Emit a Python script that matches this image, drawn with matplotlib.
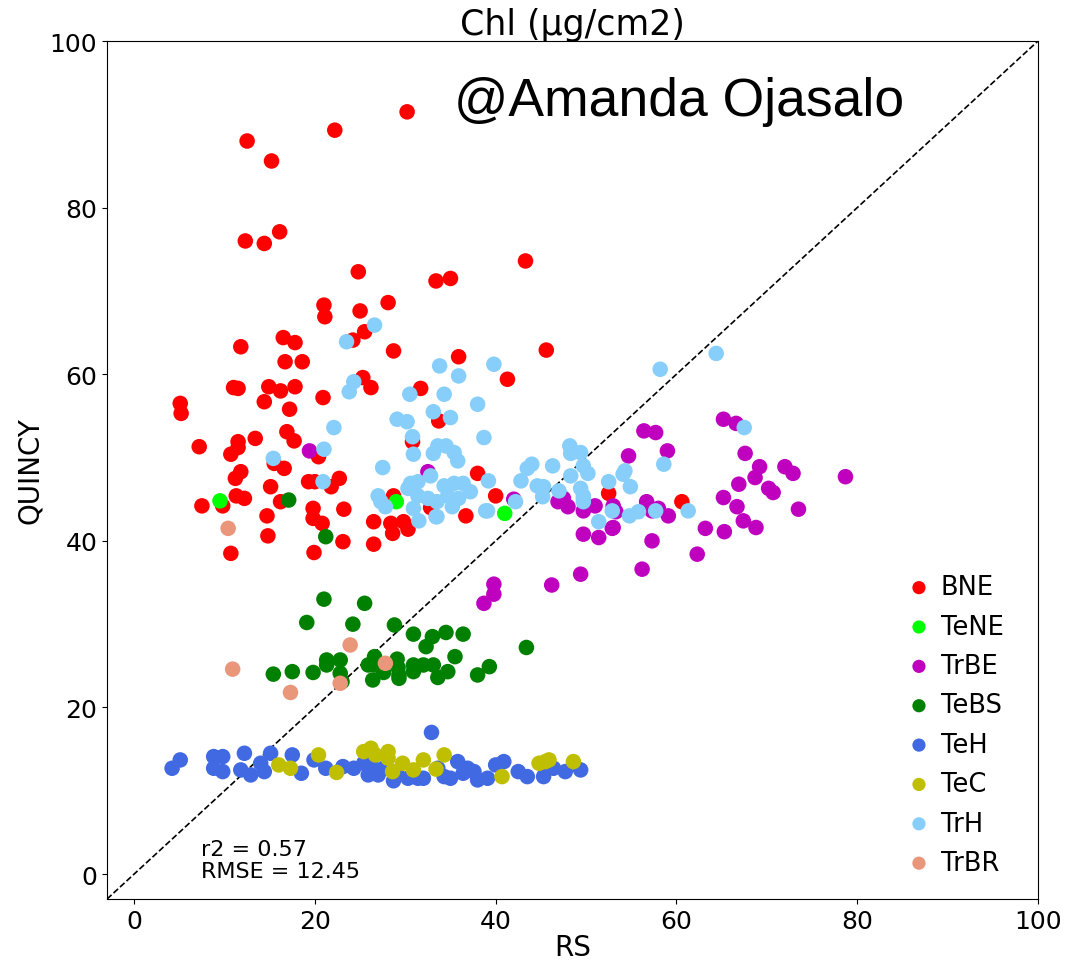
import matplotlib
matplotlib.use("Agg")
import matplotlib.pyplot as plt

# ---- data (RS, QUINCY) per plant functional type ----
bne_x = [30.2, 22.2, 12.5, 15.2, 16.1, 12.3, 14.4, 43.3, 24.8, 33.4, 35.0, 28.1, 21.0, 21.1, 25.0,
         25.5, 24.2, 11.8, 16.5, 17.8, 28.7, 35.9, 45.6, 16.7, 18.6, 25.3, 26.2, 41.3, 5.1, 5.2,
         11.0, 11.5, 14.9, 16.2, 17.8, 14.4, 17.2, 20.9, 31.7, 33.7, 30.8, 7.2, 11.5, 11.5, 10.7,
         13.4, 16.9, 17.7, 20.4, 16.6, 15.5, 11.8, 11.2, 15.1, 19.3, 20.0, 22.7, 21.8, 11.3, 12.2,
         7.5, 9.8, 16.2, 19.8, 14.7, 19.8, 20.8, 23.2, 26.5, 14.8, 23.1, 10.7, 19.9, 26.5, 28.6,
         30.3, 29.8, 28.4, 36.7, 38.0, 40.0, 28.7, 52.5, 32.8, 60.6]
bne_y = [91.5, 89.3, 88.0, 85.6, 77.1, 76.0, 75.7, 73.6, 72.3, 71.2, 71.5, 68.6, 68.3, 66.9, 67.6,
         65.1, 64.1, 63.3, 64.4, 63.8, 62.8, 62.1, 62.9, 61.5, 61.5, 59.6, 58.4, 59.4, 56.5, 55.3,
         58.4, 58.3, 58.5, 58.0, 58.5, 56.7, 55.8, 57.2, 58.3, 54.4, 51.9, 51.3, 51.9, 51.2, 50.4,
         52.3, 53.1, 52.0, 50.1, 48.7, 49.3, 48.3, 47.5, 46.5, 47.1, 47.1, 47.5, 46.5, 45.4, 45.1,
         44.2, 44.2, 44.7, 43.9, 43.0, 42.7, 42.1, 43.8, 42.3, 40.6, 39.9, 38.5, 38.6, 39.6, 40.9,
         41.4, 42.3, 42.1, 43.0, 48.1, 45.4, 45.4, 45.7, 44.0, 44.7]

tene_x = [9.5, 29.0, 41.0]
tene_y = [44.8, 44.7, 43.3]

trbe_x = [65.2, 66.6, 56.4, 57.7, 54.7, 59.0, 67.6, 69.2, 68.7, 72.0, 72.9, 70.2, 70.7, 78.7,
          66.9, 65.2, 66.7, 73.5, 67.4, 68.8, 65.3, 63.2, 62.3, 57.3, 56.2, 49.4, 46.2, 39.8,
          39.8, 53.0, 51.4, 49.7, 42.0, 46.9, 47.5, 48.0, 49.7, 51.0, 53.0, 53.3, 56.7, 57.3,
          58.0, 59.1, 52.9, 32.5, 19.4, 38.7]
trbe_y = [54.6, 54.1, 53.2, 53.0, 50.2, 50.8, 50.5, 48.9, 47.6, 48.9, 48.1, 46.3, 45.8, 47.7,
          46.8, 45.2, 44.1, 43.8, 42.4, 41.6, 41.1, 41.5, 38.4, 40.0, 36.6, 36.0, 34.7, 34.8,
          33.6, 41.6, 40.4, 40.8, 45.0, 44.7, 45.1, 44.1, 43.6, 44.2, 44.2, 43.5, 44.7, 43.6,
          43.9, 43.0, 41.5, 48.3, 50.8, 32.5]

tebs_x = [17.1, 21.2, 21.0, 25.5, 19.1, 24.2, 28.8, 30.9, 33.0, 34.5, 36.4, 32.3, 43.4, 35.5,
          21.3, 22.8, 21.3, 26.6, 26.7, 29.1, 29.2, 30.9, 32.0, 33.1, 15.4, 17.5, 19.8, 22.8,
          23.0, 26.4, 27.6, 29.3, 29.3, 30.9, 33.6, 34.7, 38.0, 39.3, 25.9]
tebs_y = [44.9, 40.5, 33.0, 32.5, 30.2, 30.0, 29.9, 28.8, 28.5, 29.0, 28.8, 27.3, 27.2, 26.1,
          25.7, 25.7, 25.1, 26.1, 25.1, 25.8, 24.8, 25.1, 25.1, 25.1, 24.0, 24.3, 24.2, 24.1,
          23.1, 23.3, 24.2, 23.9, 23.5, 24.3, 23.6, 24.3, 23.9, 24.9, 25.1]

teh_x = [4.2, 5.1, 8.8, 9.8, 8.8, 9.8, 12.2, 11.8, 12.9, 14.4, 15.1, 14.0, 17.5, 18.5, 19.9,
         21.2, 23.1, 24.3, 25.4, 25.9, 27.0, 27.6, 28.7, 29.0, 30.3, 31.4, 32.0, 32.9, 33.6,
         35.0, 35.8, 36.4, 37.6, 39.1, 40.0, 40.9, 42.5, 43.5, 45.3, 46.4, 47.7, 49.4, 36.9,
         26.2, 34.3, 38.0]
teh_y = [12.7, 13.7, 14.1, 14.1, 12.7, 12.3, 14.5, 12.5, 11.9, 12.3, 14.5, 13.3, 14.3, 12.1, 13.7,
         12.7, 12.9, 12.7, 13.3, 11.9, 11.9, 12.7, 11.2, 12.3, 11.5, 11.5, 11.5, 17.0, 12.7,
         11.5, 13.5, 12.1, 12.3, 11.5, 13.1, 13.5, 12.3, 11.7, 11.7, 12.7, 12.3, 12.5, 12.7,
         13.1, 11.7, 11.3]

tec_x = [20.4, 16.0, 17.3, 22.4, 25.4, 26.2, 26.7, 28.1, 28.1, 28.6, 29.7, 30.9, 32.0, 33.4,
         34.3, 40.7, 44.8, 45.5, 45.9, 48.6]
tec_y = [14.3, 13.1, 12.7, 12.2, 14.7, 15.1, 14.3, 14.7, 13.9, 12.3, 13.3, 12.5, 13.7, 12.6,
         14.3, 11.7, 13.3, 13.5, 13.7, 13.5]

trh_x = [26.6, 23.5, 33.8, 35.9, 39.8, 24.3, 23.8, 30.5, 34.3, 38.0, 33.1, 35.0, 29.1, 30.2,
         38.7, 22.1, 30.8, 30.9, 33.6, 34.5, 33.1, 35.4, 35.8, 21.0, 15.4, 27.5, 20.9, 39.2,
         38.9, 33.4, 48.2, 49.4, 44.0, 43.5, 46.3, 42.8, 44.6, 45.3, 47.0, 49.7, 50.2, 48.3,
         52.5, 52.9, 51.4, 49.7, 45.2, 39.1, 42.2, 33.5, 35.2, 31.5, 33.5, 30.6, 31.4, 32.8,
         34.3, 35.4, 36.4, 31.4, 32.5, 34.7, 35.9, 30.3, 30.9, 27.0, 27.3, 27.8, 37.2, 58.2,
         64.4, 67.5, 58.6, 48.3, 49.4, 49.7, 49.7, 54.3, 54.1, 54.9, 54.8, 55.8, 57.7, 61.3]
trh_y = [65.9, 63.9, 61.0, 59.8, 61.2, 59.1, 57.9, 57.6, 57.6, 56.4, 55.5, 54.8, 54.6, 54.3,
         52.4, 53.6, 52.5, 50.4, 51.4, 51.4, 50.5, 50.6, 49.6, 51.0, 49.9, 48.8, 47.1, 47.2,
         43.6, 42.9, 51.4, 50.6, 49.2, 48.7, 49.0, 47.2, 46.6, 46.5, 46.0, 49.0, 48.1, 47.8,
         47.1, 43.6, 42.3, 45.1, 45.3, 43.6, 44.7, 42.9, 44.1, 42.4, 44.7, 46.9, 47.1, 47.8,
         46.6, 46.9, 46.9, 45.4, 45.1, 45.4, 45.1, 46.3, 43.9, 45.4, 44.7, 44.1, 45.9, 60.6,
         62.5, 53.6, 49.2, 50.5, 46.3, 45.4, 44.7, 48.4, 48.0, 46.5, 43.0, 43.5, 43.6, 43.6]

trbr_x = [10.4, 10.9, 23.9, 17.3, 22.8, 27.8]
trbr_y = [41.5, 24.6, 27.5, 21.8, 22.9, 25.3]

groups = [
    ("BNE", bne_x, bne_y, "red"),
    ("TeNE", tene_x, tene_y, "lime"),
    ("TrBE", trbe_x, trbe_y, "m"),
    ("TeBS", tebs_x, tebs_y, "green"),
    ("TeH", teh_x, teh_y, "royalblue"),
    ("TeC", tec_x, tec_y, "y"),
    ("TrH", trh_x, trh_y, "lightskyblue"),
    ("TrBR", trbr_x, trbr_y, "darksalmon"),
]

fig = plt.figure(figsize=(10.67, 9.62), dpi=100)
ax = fig.add_axes([0.1003, 0.0644, 0.8725, 0.8919])

ax.plot([-3, 100], [-3, 100], linestyle="--", color="black", linewidth=1.2, zorder=1)
for i, (name, xs, ys, col) in enumerate(groups):
    ax.scatter(xs, ys, s=125, c=col, label=name, edgecolors="none", zorder=2)

ax.set_xlim(-3, 100)
ax.set_ylim(-3, 100)
ax.set_xticks([0, 20, 40, 60, 80, 100])
ax.set_yticks([0, 20, 40, 60, 80, 100])
ax.tick_params(labelsize=18)
ax.set_xlabel("RS", fontsize=20, labelpad=0)
ax.set_ylabel("QUINCY", fontsize=20)
ax.set_title("Chl (µg/cm2)", fontsize=25, pad=2)

ax.text(7.4, -0.8, "r2 = 0.57\nRMSE = 12.45", fontsize=16, va="bottom", ha="left",
        linespacing=1.1)
ax.text(35.4, 92.8, "@Amanda Ojasalo", fontsize=38.5, family="Liberation Sans",
        va="center", ha="left")

ax.legend(loc="lower right", frameon=False, fontsize=18.5, markerscale=0.85,
          handlelength=1.0, handletextpad=0.35, labelspacing=0.52,
          borderaxespad=0.5, bbox_to_anchor=(0.988, 0.0))

fig.savefig("out.png", dpi=100)
